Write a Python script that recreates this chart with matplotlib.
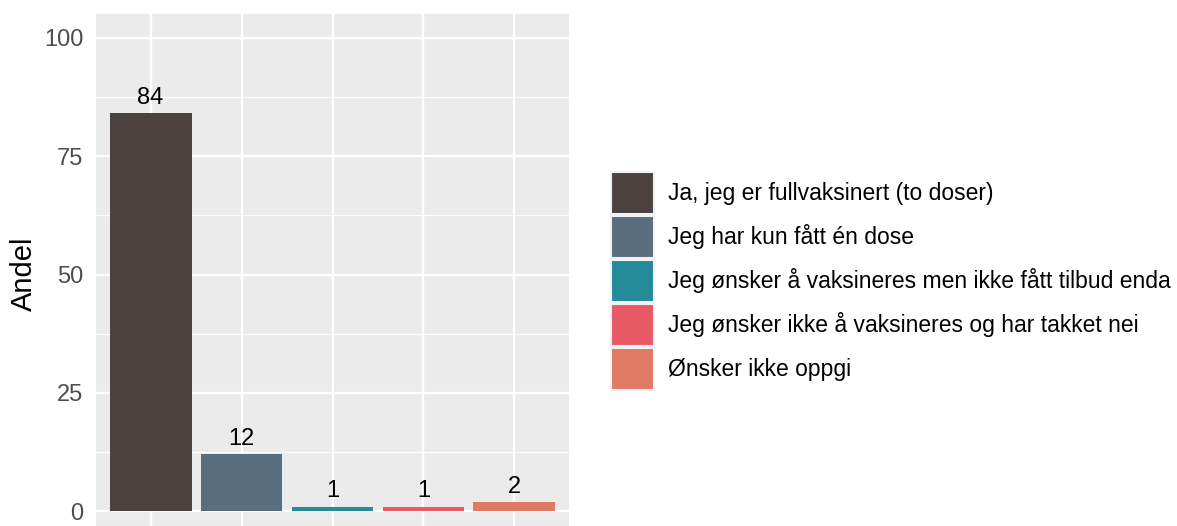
import matplotlib.pyplot as plt
from matplotlib.patches import Patch
from matplotlib.ticker import MultipleLocator

categories = ['Ja, jeg er fullvaksinert (to doser)',
              'Jeg har kun fått én dose',
              'Jeg ønsker å vaksineres men ikke fått tilbud enda',
              'Jeg ønsker ikke å vaksineres og har takket nei',
              'Ønsker ikke oppgi']
values = [84, 12, 1, 1, 2]
colors = ['#4B4240', '#596E7E', '#258B98', '#E85A65', '#DF7A64']

plt.rcParams['font.family'] = ['Liberation Sans', 'DejaVu Sans']

fig = plt.figure(figsize=(11.77, 5.26), dpi=100)
W, H = 1177, 526
# panel runs past the bottom edge (cropped like the original)
left, right, top, bottom = 96, 569, 14, 535
ax = fig.add_axes([left / W, (H - bottom) / H, (right - left) / W, (bottom - top) / H])

x = list(range(1, len(values) + 1))
ax.set_facecolor('#EBEBEB')
ax.bar(x, values, width=0.9, color=colors, zorder=3)
for xi, v in zip(x, values):
    ax.annotate(str(v), (xi, v), xytext=(0, 3), textcoords='offset points',
                ha='center', va='bottom', fontsize=17, color='black', zorder=4)

ax.set_xlim(0.4, 5.6)
ax.set_ylim(-5, 105)
ax.yaxis.set_major_locator(MultipleLocator(25))
ax.yaxis.set_minor_locator(MultipleLocator(12.5))
ax.set_xticks(x)
ax.set_xticklabels([])
ax.grid(which='major', color='white', linewidth=1.7, zorder=0)
ax.grid(which='minor', axis='y', color='white', linewidth=0.85, zorder=0)
ax.set_axisbelow(True)
for s in ax.spines.values():
    s.set_visible(False)
ax.tick_params(axis='y', which='major', length=0, labelsize=17,
               labelcolor='#4D4D4D', pad=9)
ax.tick_params(axis='y', which='minor', length=0)
ax.tick_params(axis='x', length=0)
ax.set_ylabel('Andel', fontsize=21)
ax.yaxis.set_label_coords((38 - left) / (right - left), (bottom - 274) / (bottom - top))

handles = [Patch(facecolor=c, edgecolor='#F2F2F2', linewidth=1.5) for c in colors]
fig.legend(handles, categories, loc='center left', bbox_to_anchor=(611 / W, 1 - 281 / H),
           frameon=False, fontsize=16.5, handlelength=1.88, handleheight=2.44,
           labelspacing=0.09, handletextpad=0.62, borderaxespad=0, borderpad=0)

fig.savefig('out.png', dpi=100)
